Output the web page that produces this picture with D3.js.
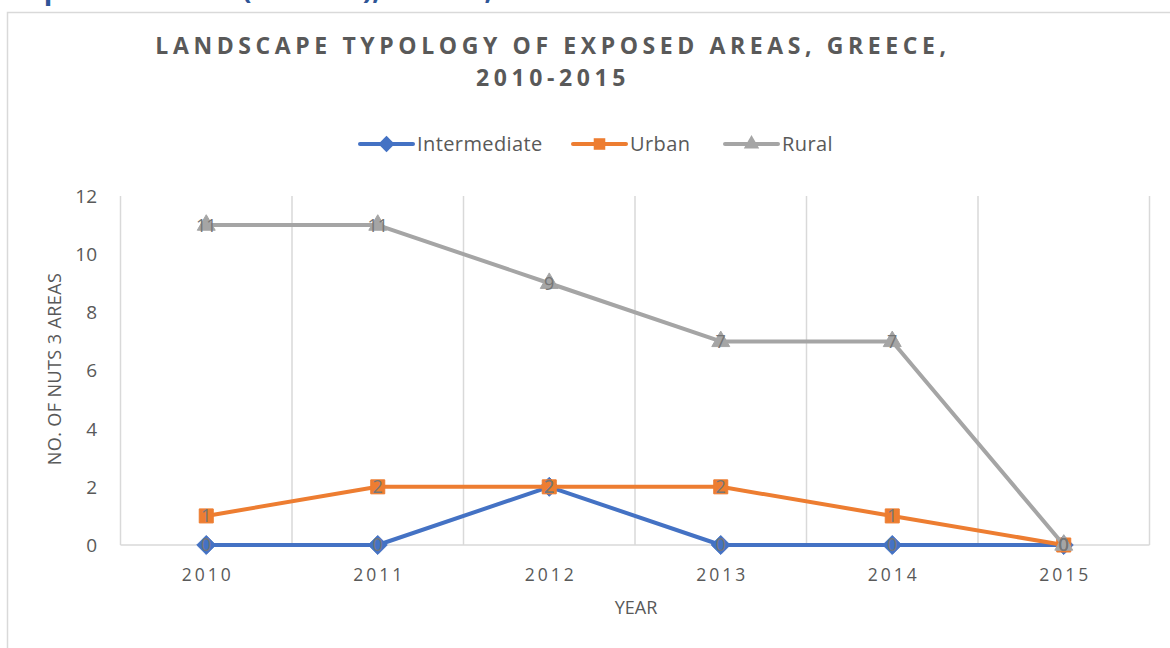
<!DOCTYPE html>
<html>
<head>
<meta charset="utf-8">
<script src="https://cdn.jsdelivr.net/npm/d3@7"></script>
<style>
  body { margin: 0; background: #fff; }
  text { font-family: "Open Sans", Lato, sans-serif; }
</style>
</head>
<body>
<svg width="1170" height="648"></svg>
<script>
var years = ["2010", "2011", "2012", "2013", "2014", "2015"];
var intermediate = [0, 0, 2, 0, 0, 0];
var urban = [1, 2, 2, 2, 1, 0];
var rural = [11, 11, 9, 7, 7, 0];
var yTicks = [0, 2, 4, 6, 8, 10, 12];

var series = [
    {name: "Intermediate", values: intermediate, color: "#4472C4", symbol: d3.symbolDiamond2},
    {name: "Urban", values: urban, color: "#ED7D31", symbol: d3.symbolSquare2},
    {name: "Rural", values: rural, color: "#A5A5A5", symbol: d3.symbolTriangle2}
];

var svg = d3.select("svg");

// cut-off heading of the page above the chart (only descenders are visible)
var head = svg.append("text")
    .attr("y", -1)
    .attr("fill", "#2F5597")
    .attr("font-family", "Lato")
    .attr("font-weight", "bold")
    .attr("font-size", 28);
head.append("tspan").attr("x", 12).text("Exposed areas");
head.append("tspan").attr("x", 242).text("(number), Greece, 2010-2015");

// chart frame
svg.append("rect")
    .attr("x", 7.5)
    .attr("y", 12.5)
    .attr("width", 1200)
    .attr("height", 700)
    .attr("fill", "#fff")
    .attr("stroke", "#d9d9d9")
    .attr("stroke-width", 1.5);

var x = d3.scaleBand().domain(years).range([120.5, 1149.5]);
var y = d3.scaleLinear().domain([0, 12]).range([545, 196]);
var cx = function(d, i) { return x(years[i]) + x.bandwidth() / 2; };

// title
var title = svg.append("text")
    .attr("text-anchor", "middle")
    .attr("fill", "#595959")
    .attr("font-family", "Lato")
    .attr("font-weight", "bold")
    .attr("font-size", 23)
    .attr("letter-spacing", 4.6);
title.append("tspan").attr("x", 553).attr("y", 54).text("LANDSCAPE TYPOLOGY OF EXPOSED AREAS, GREECE,");
title.append("tspan").attr("x", 553).attr("y", 86).text("2010-2015");

// vertical gridlines
var g = svg.append("g");
g.selectAll("line.grid")
    .data(years.concat(["end"]))
    .enter().append("line")
    .attr("x1", function(d, i) { return x.range()[0] + i * x.bandwidth(); })
    .attr("x2", function(d, i) { return x.range()[0] + i * x.bandwidth(); })
    .attr("y1", y(12))
    .attr("y2", y(0))
    .attr("stroke", "#d9d9d9")
    .attr("stroke-width", 1.5);

// x axis line
g.append("line")
    .attr("x1", x.range()[0])
    .attr("x2", x.range()[1])
    .attr("y1", y(0))
    .attr("y2", y(0))
    .attr("stroke", "#d9d9d9")
    .attr("stroke-width", 1.5);

// y tick labels
g.selectAll("text.ytick")
    .data(yTicks)
    .enter().append("text")
    .attr("x", 97)
    .attr("y", function(d) { return y(d); })
    .attr("dy", "0.36em")
    .attr("text-anchor", "end")
    .attr("font-size", 19)
    .attr("fill", "#595959")
    .text(function(d) { return d; });

// x tick labels
g.selectAll("text.xtick")
    .data(years)
    .enter().append("text")
    .attr("x", function(d) { return x(d) + x.bandwidth() / 2 + 1.5; })
    .attr("y", 581)
    .attr("text-anchor", "middle")
    .attr("font-size", 17.5)
    .attr("letter-spacing", 3)
    .attr("fill", "#595959")
    .text(function(d) { return d; });

// axis titles
g.append("text")
    .attr("x", 636)
    .attr("y", 614)
    .attr("text-anchor", "middle")
    .attr("font-size", 18)
    .attr("fill", "#595959")
    .text("YEAR");

g.append("text")
    .attr("transform", "translate(61,369) rotate(-90)")
    .attr("text-anchor", "middle")
    .attr("font-size", 18)
    .attr("letter-spacing", 0.4)
    .attr("fill", "#595959")
    .text("NO. OF NUTS 3 AREAS");

var line = d3.line()
    .x(function(d, i) { return cx(d, i); })
    .y(function(d) { return y(d); });

// series lines and markers
series.forEach(function(s) {
    g.append("path")
        .datum(s.values)
        .attr("d", line)
        .attr("fill", "none")
        .attr("stroke", s.color)
        .attr("stroke-width", 4)
        .attr("stroke-linejoin", "round")
        .attr("stroke-linecap", "round");

    g.selectAll(null)
        .data(s.values)
        .enter().append("path")
        .attr("transform", function(d, i) { return "translate(" + cx(d, i) + "," + y(d) + ")"; })
        .attr("d", d3.symbol().type(s.symbol).size(s.name === "Urban" ? 250 : 230))
        .attr("fill", s.color)
        .attr("stroke", s.color)
        .attr("stroke-width", 1);
});

// data labels drawn on top of all series
series.forEach(function(s) {
    g.selectAll(null)
        .data(s.values)
        .enter().append("text")
        .attr("x", function(d, i) { return cx(d, i); })
        .attr("y", function(d) { return y(d); })
        .attr("dy", "0.36em")
        .attr("text-anchor", "middle")
        .attr("font-size", 18)
        .attr("fill", "#767676")
        .text(function(d) { return d; });
});

// legend
var legendX = [360, 573, 725];
var legend = svg.append("g");
series.forEach(function(s, i) {
    var lg = legend.append("g").attr("transform", "translate(" + legendX[i] + ",144)");
    lg.append("line")
        .attr("x1", 0).attr("x2", 53)
        .attr("stroke", s.color)
        .attr("stroke-width", 4)
        .attr("stroke-linecap", "round");
    lg.append("path")
        .attr("transform", "translate(26.5,0)")
        .attr("d", d3.symbol().type(s.symbol).size(170))
        .attr("fill", s.color);
    lg.append("text")
        .attr("x", 57)
        .attr("dy", "0.35em")
        .attr("font-size", 20)
        .attr("letter-spacing", 0.4)
        .attr("fill", "#595959")
        .text(s.name);
});
</script>
</body>
</html>
